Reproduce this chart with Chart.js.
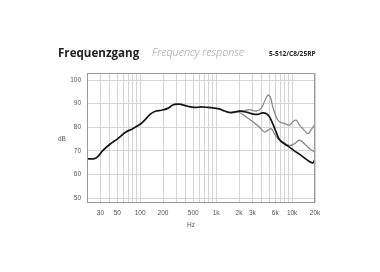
<!DOCTYPE html>
<html>
<head>
<meta charset="utf-8">
<script src="https://cdn.jsdelivr.net/npm/chart.js@4"></script>
<style>
  html, body { margin: 0; padding: 0; background: #fff; }
  #wrap { position: relative; width: 380px; height: 272px; overflow: hidden; }
  #wrap canvas { position: absolute; left: 0; top: 0; }
  .t { position: absolute; white-space: nowrap; line-height: 1; }
  #t1 { left: 58px; top: 45px; font: bold 11.6px "Open Sans", sans-serif; color: #222; }
  #t2 { left: 152px; top: 45px; font: italic 300 10.7px "Open Sans", sans-serif; color: #999; }
  #t3 { left: 269px; top: 49px; font: bold 6.6px "Open Sans", sans-serif; color: #222; }
  #ydb { left: 58px; top: 135px; font: 6.5px "Liberation Sans", sans-serif; color: #555; }
  #xhz { left: 187px; top: 221px; font: 6.5px "Liberation Sans", sans-serif; color: #555; }
</style>
</head>
<body>
<div id="wrap">
  <canvas id="chart" width="380" height="272"></canvas>
  <div class="t" id="t1">Frequenzgang</div>
  <div class="t" id="t2">Frequency response</div>
  <div class="t" id="t3">5-512/C8/25RP</div>
  <div class="t" id="ydb">dB</div>
  <div class="t" id="xhz">Hz</div>
</div>
<script>
// Frequenzgang (Hz / dB)
const axisFreq = [20, 30, 40, 50, 60, 70, 80, 90, 100, 200, 300, 400, 500, 600, 700, 800, 900,
  1000, 2000, 3000, 4000, 5000, 6000, 7000, 8000, 9000, 10000, 20000];
const labelFreq = [30, 50, 100, 200, 500, 1000, 2000, 3000, 6000, 10000, 20000];
const dbTicks = [50, 60, 70, 80, 90, 100];

// black: on axis
const blackFreq = [20, 25, 28, 32, 40, 51, 65, 80, 103, 120, 139, 162, 189, 231, 269, 314, 346,
  424, 518, 635, 777, 950, 1100, 1290, 1570, 2030, 2600, 2900, 3540, 4100, 4550, 5030, 5570,
  6160, 6800, 7900, 9200, 10700, 12500, 14500, 16900, 18700, 20000];
const blackDb = [66.7, 66.7, 67.7, 70.0, 72.8, 75.2, 78.0, 79.4, 81.6, 83.7, 85.8, 86.9, 87.2,
  88.0, 89.4, 89.8, 89.7, 88.9, 88.4, 88.6, 88.4, 88.1, 87.8, 86.9, 86.2, 86.8, 86.3, 85.8,
  85.5, 86.1, 85.8, 84.4, 81.4, 78.0, 74.8, 73.0, 71.6, 70.0, 68.6, 67.0, 65.5, 64.9, 66.5];

// grey, upper
const grayAFreq = [1570, 2030, 2245, 2740, 3360, 3910, 4320, 4790, 5140, 5570, 6160, 6810,
  7930, 9210, 10200, 11300, 12500, 14500, 16100, 17800, 19700];
const grayADb = [86.2, 86.8, 86.9, 87.5, 86.9, 88.0, 90.8, 93.6, 92.9, 88.7, 84.4, 82.3,
  81.6, 80.9, 82.3, 83.0, 80.9, 78.7, 77.3, 79.0, 80.9];

// grey, lower
const grayBFreq = [1570, 1930, 2480, 3040, 3710, 4320, 4790, 5300, 5850, 6480, 7520, 9210,
  10700, 12500, 14500, 16900, 19700];
const grayBDb = [86.2, 86.5, 84.4, 82.3, 80.1, 78.0, 78.7, 79.4, 77.3, 75.2, 73.8, 72.3,
  73.0, 74.5, 73.0, 71.0, 69.5];

const pts = (fs, vs) => fs.map((f, i) => ({ x: f, y: vs[i] }));

const frame = {
  id: "frame",
  afterDraw(chart) {
    const a = chart.chartArea, c = chart.ctx;
    c.save();
    c.strokeStyle = "#9a9a9a";
    c.lineWidth = 1;
    c.strokeRect(Math.round(a.left) + 0.5, Math.round(a.top) + 0.5,
      Math.round(a.right - a.left) - 1, Math.round(a.bottom - a.top) - 1);
    c.restore();
  }
};

new Chart(document.getElementById("chart"), {
  type: "line",
  data: {
    datasets: [
      { data: pts(blackFreq, blackDb), borderColor: "#151515", borderWidth: 1.7 },
      { data: pts(grayAFreq, grayADb), borderColor: "#8a8a8a", borderWidth: 1.3 },
      { data: pts(grayBFreq, grayBDb), borderColor: "#8a8a8a", borderWidth: 1.3 }
    ]
  },
  options: {
    responsive: false,
    animation: false,
    events: [],
    layout: { padding: { left: 57, top: 73, right: 65, bottom: 49 } },
    elements: { point: { radius: 0 }, line: { tension: 0.4, fill: false } },
    plugins: { legend: { display: false }, tooltip: { enabled: false } },
    scales: {
      x: {
        type: "logarithmic",
        min: 20,
        max: 20000,
        afterBuildTicks(s) { s.ticks = axisFreq.map(v => ({ value: v })); },
        afterFit(s) { s.height = 20; },
        grid: { color: "#d4d4d4", lineWidth: 1, drawTicks: false },
        border: { display: false },
        ticks: {
          autoSkip: false,
          maxRotation: 0,
          padding: 6,
          color: "#555",
          font: { family: "Liberation Sans", size: 6.5 },
          callback(v) {
            if (!labelFreq.includes(v)) return "";
            return v >= 1000 ? (v / 1000) + "k" : String(v);
          }
        }
      },
      y: {
        min: 47.9,
        max: 103,
        afterBuildTicks(s) { s.ticks = dbTicks.map(v => ({ value: v })); },
        afterFit(s) { s.width = 30; },
        grid: { color: "#d4d4d4", lineWidth: 1, drawTicks: false },
        border: { display: false },
        ticks: {
          padding: 6,
          color: "#555",
          font: { family: "Liberation Sans", size: 6.5 }
        }
      }
    }
  },
  plugins: [frame]
});
</script>
</body>
</html>
